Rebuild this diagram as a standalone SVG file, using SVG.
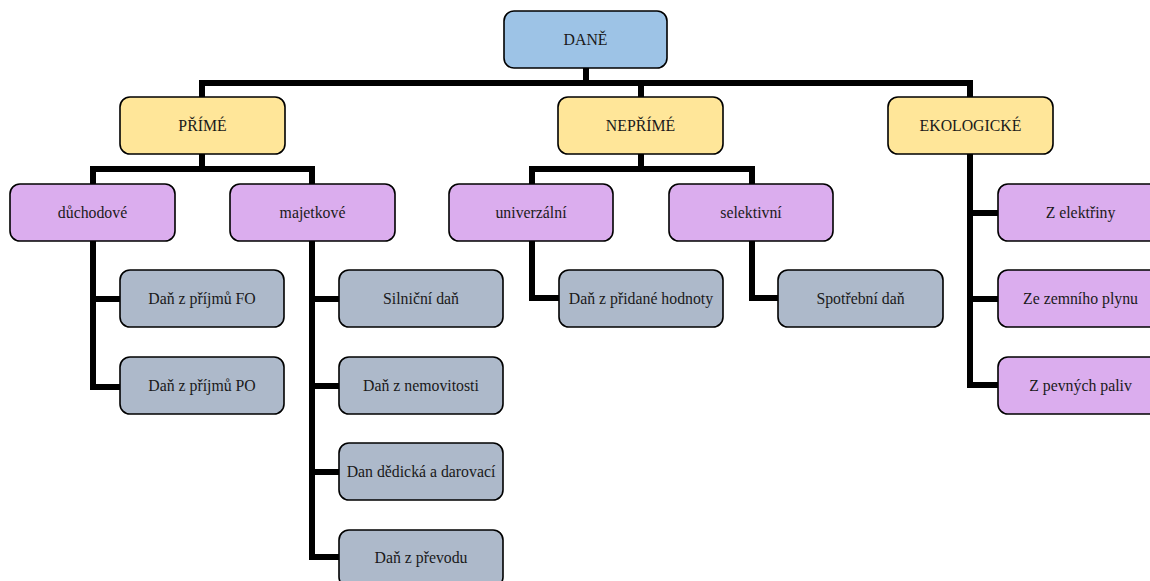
<svg xmlns="http://www.w3.org/2000/svg" width="1150" height="581" viewBox="0 0 1150 581">
<style>
.c{fill:none;stroke:#000;stroke-width:6;stroke-linejoin:miter;stroke-linecap:square}
.b{stroke:#000;stroke-width:1.6}
.top{fill:#9DC3E6}
.l2{fill:#FFE699}
.l3{fill:#DBADEE}
.l4{fill:#ADB9CA}
text{font-family:'Liberation Serif',serif;font-size:15.8px;fill:#1a1a1a;text-anchor:middle}
</style>
<rect width="1150" height="581" fill="#fff"/>
<g id="connectors">
<path class="c" d="M586 68V83M202 97V83H970V97M641 83V97"/>
<path class="c" d="M202 154V169M93 183V169H312V183"/>
<path class="c" d="M93 242V387H120M93 299H120"/>
<path class="c" d="M312 242V557H338M312 299H338M312 386H338M312 472H338"/>
<path class="c" d="M641 154V169M532 183V169H752V183"/>
<path class="c" d="M532 241V298H559"/>
<path class="c" d="M752 241V298H778"/>
<path class="c" d="M970 154V385H998M970 213H998M970 299H998"/>
</g>
<g font-family="Liberation Serif, serif">
<g id="dane"><rect class="b top" x="504" y="11" width="163" height="57" rx="10"/><text x="585.5" y="45">DANĚ</text></g>
<g id="prime"><rect class="b l2" x="120" y="97" width="165" height="57" rx="10"/><text x="202.5" y="131">PŘÍMÉ</text></g>
<g id="neprime"><rect class="b l2" x="558" y="97" width="165" height="57" rx="10"/><text x="640.5" y="131">NEPŘÍMÉ</text></g>
<g id="ekologicke"><rect class="b l2" x="888" y="97" width="165" height="57" rx="10"/><text x="970.5" y="131">EKOLOGICKÉ</text></g>
<g id="duchodove"><rect class="b l3" x="10" y="184" width="165" height="57" rx="10"/><text x="92.5" y="218">důchodové</text></g>
<g id="majetkove"><rect class="b l3" x="230" y="184" width="165" height="57" rx="10"/><text x="312.5" y="218">majetkové</text></g>
<g id="univerzalni"><rect class="b l3" x="449" y="184" width="164" height="57" rx="10"/><text x="531" y="218">univerzální</text></g>
<g id="selektivni"><rect class="b l3" x="669" y="184" width="164" height="57" rx="10"/><text x="751" y="218">selektivní</text></g>
<g id="fo"><rect class="b l4" x="120" y="270" width="164" height="57" rx="10"/><text x="202" y="304">Daň z příjmů FO</text></g>
<g id="po"><rect class="b l4" x="120" y="357" width="164" height="57" rx="10"/><text x="202" y="391">Daň z příjmů PO</text></g>
<g id="silnicni"><rect class="b l4" x="339" y="270" width="164" height="57" rx="10"/><text x="421" y="304">Silniční daň</text></g>
<g id="nemovitosti"><rect class="b l4" x="339" y="357" width="164" height="57" rx="10"/><text x="421" y="391">Daň z nemovitosti</text></g>
<g id="dedicka"><rect class="b l4" x="339" y="443" width="164" height="57" rx="10"/><text x="421" y="477">Dan dědická a darovací</text></g>
<g id="prevod"><rect class="b l4" x="339" y="530" width="164" height="57" rx="10"/><text x="421" y="563">Daň z převodu</text></g>
<g id="dph"><rect class="b l4" x="559" y="270" width="164" height="57" rx="10"/><text x="641" y="304">Daň z přidané hodnoty</text></g>
<g id="spotrebni"><rect class="b l4" x="778" y="270" width="165" height="57" rx="10"/><text x="860.5" y="304">Spotřební daň</text></g>
<g id="elektrina"><rect class="b l3" x="998" y="184" width="165" height="57" rx="10"/><text x="1080.5" y="218">Z elektřiny</text></g>
<g id="plyn"><rect class="b l3" x="998" y="270" width="165" height="57" rx="10"/><text x="1080.5" y="304">Ze zemního plynu</text></g>
<g id="paliva"><rect class="b l3" x="998" y="357" width="165" height="57" rx="10"/><text x="1080.5" y="391">Z pevných paliv</text></g>
</g>
</svg>
